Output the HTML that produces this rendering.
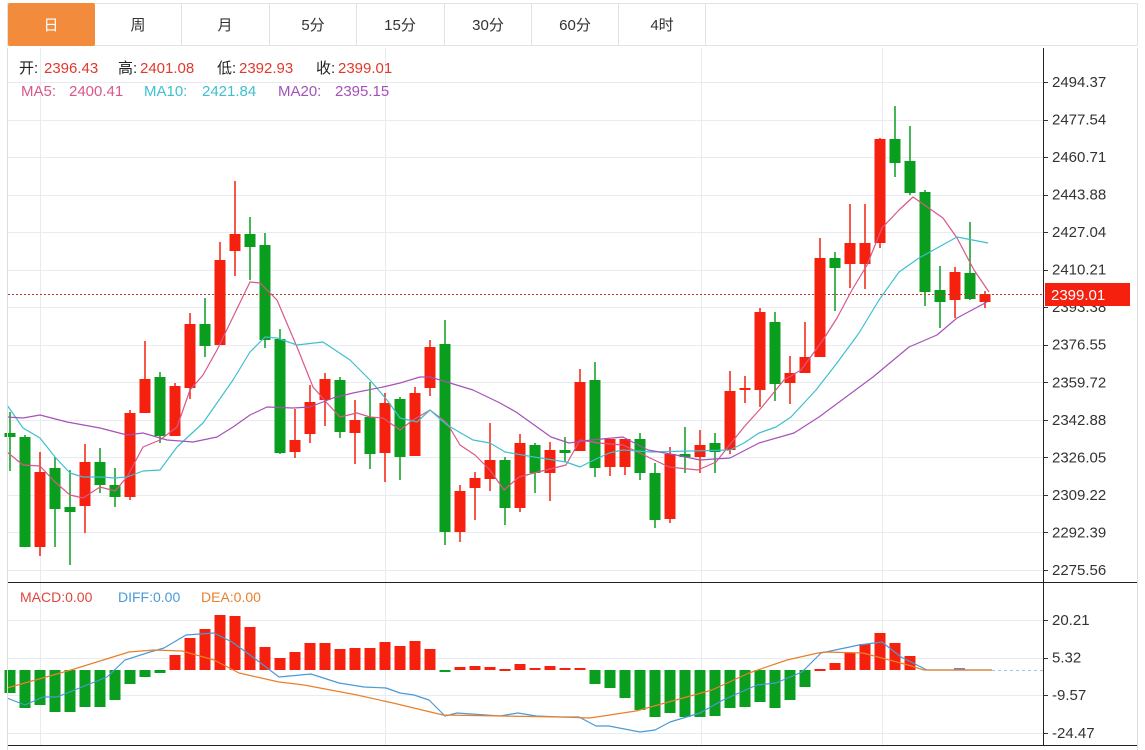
<!DOCTYPE html>
<html><head><meta charset="utf-8">
<style>
html,body{margin:0;padding:0;background:#fff;}
svg{display:block;font-family:"Liberation Sans","Noto Sans CJK SC",sans-serif;}
</style></head>
<body>
<svg id="s" width="1145" height="750" xmlns="http://www.w3.org/2000/svg">
<rect width="1145" height="750" fill="#fff"/>
<!-- tabs -->
<rect x="7.5" y="3.5" width="1130" height="42" fill="#fff" stroke="#e3e3e3"/>
<rect x="8" y="3" width="87" height="43" rx="2" fill="#f28c3c"/>
<g stroke="#e3e3e3"><line x1="181.5" y1="4" x2="181.5" y2="45"/><line x1="269.5" y1="4" x2="269.5" y2="45"/><line x1="356.5" y1="4" x2="356.5" y2="45"/><line x1="444.5" y1="4" x2="444.5" y2="45"/><line x1="531.5" y1="4" x2="531.5" y2="45"/><line x1="618.5" y1="4" x2="618.5" y2="45"/><line x1="705.5" y1="4" x2="705.5" y2="45"/></g>
<g font-size="15" fill="#333" text-anchor="middle">
<text x="51" y="30" fill="#fff">日</text><text x="138" y="30">周</text><text x="225" y="30">月</text><text x="313" y="30">5分</text><text x="400" y="30">15分</text><text x="488" y="30">30分</text><text x="575" y="30">60分</text><text x="662" y="30">4时</text>
</g>
<g id="grid" stroke="#e8ecf0" stroke-width="1"></g>
<g id="main"></g>
<g id="macd"></g>
<!-- frame -->
<g stroke="#222" stroke-width="1">
<line x1="1043.5" y1="48" x2="1043.5" y2="746"/>
<line x1="7" y1="582.5" x2="1138" y2="582.5"/>
<line x1="7" y1="745.5" x2="1138" y2="745.5"/>
</g>
<line x1="7.5" y1="48" x2="7.5" y2="750" stroke="#ddd"/>
<line x1="1137.5" y1="48" x2="1137.5" y2="750" stroke="#ddd"/>
<!-- legends -->
<g font-size="15">
<text x="19" y="73" fill="#222">开:</text><text x="44" y="73" fill="#e0392d">2396.43</text>
<text x="118" y="73" fill="#222">高:</text><text x="140" y="73" fill="#e0392d">2401.08</text>
<text x="217" y="73" fill="#222">低:</text><text x="239" y="73" fill="#e0392d">2392.93</text>
<text x="316" y="73" fill="#222">收:</text><text x="338" y="73" fill="#e0392d">2399.01</text>
<text x="21" y="96" fill="#d9578a">MA5:</text><text x="69" y="96" fill="#d9578a">2400.41</text>
<text x="144" y="96" fill="#3fbfcf">MA10:</text><text x="202" y="96" fill="#3fbfcf">2421.84</text>
<text x="278" y="96" fill="#a552b8">MA20:</text><text x="335" y="96" fill="#a552b8">2395.15</text>
</g>
<g font-size="14">
<text x="20" y="602" fill="#e0463c">MACD:0.00</text>
<text x="118" y="602" fill="#4a9ad8">DIFF:0.00</text>
<text x="201" y="602" fill="#e8802e">DEA:0.00</text>
</g>
<g id="axis" font-size="15" fill="#333"></g>
<rect x="1045" y="283" width="85" height="23" fill="#f5200e"/>
<text x="1051" y="300" font-size="15" fill="#fff">2399.01</text>
</svg>
<script>
var NS="http://www.w3.org/2000/svg";
function el(p,t,a){var e=document.createElementNS(NS,t);for(var k in a)e.setAttribute(k,a[k]);p.appendChild(e);return e;}
var grid=document.getElementById('grid'),main=document.getElementById('main'),macd=document.getElementById('macd'),axis=document.getElementById('axis');
var pl=[["2494.37",82],["2477.54",119.5],["2460.71",157],["2443.88",194.6],["2427.04",232.1],["2410.21",269.7],["2393.38",307.2],["2376.55",344.7],["2359.72",382.3],["2342.88",419.8],["2326.05",457.3],["2309.22",494.9],["2292.39",532.4],["2275.56",570]];
pl.forEach(function(p){var y=Math.round(p[1])+0.5;el(grid,'line',{x1:8,y1:y,x2:1043,y2:y});el(axis,'line',{x1:1043,y1:y,x2:1048,y2:y,stroke:'#333'});var t=el(axis,'text',{x:1052,y:p[1]+5});t.textContent=p[0];});
[["20.21",620],["5.32",657.5],["-9.57",695],["-24.47",733]].forEach(function(p){var y=Math.round(p[1])+0.5;el(grid,'line',{x1:8,y1:y,x2:1043,y2:y});el(axis,'line',{x1:1043,y1:y,x2:1048,y2:y,stroke:'#333'});var t=el(axis,'text',{x:1052,y:p[1]+5});t.textContent=p[0];});
[40,385,701,882].forEach(function(x){el(grid,'line',{x1:x+.5,y1:48,x2:x+.5,y2:745});});
var C=[
"g433,437,412,471","g437,547,435,547","r472,547,452,556","g468,509,457,547","g507,512,470,565","r462,506,444,533","g462,485,448,493","g485,497,468,507","r413,497,410,500","r379,413,341,413",
"g377,436,372,443","r386,436,383,436","r324,388,313,399","g324,346,298,357","r260,345,242,345","r234,251,181,276","g234,247,217,280","g245,340,233,348","g339,453,329,454","r440,452,409,458",
"r402,434,385,443","r379,400,373,426","g380,432,377,438","r420,433,400,464","g417,454,382,469","r403,453,393,482","g399,457,397,480","r393,456,387,456","r347,388,340,396","g344,532,320,545",
"r491,532,485,542","r478,488,472,520","r460,479,423,491","g460,508,457,525","r443,508,434,512","g445,473,443,493","r450,473,442,501","g450,453,437,462","r382,451,369,451","g380,468,362,477",
"r439,467,439,476","r439,467,439,475","g439,473,433,480","g473,520,463,528","r454,519,447,523","g454,457,427,473","r445,457,430,473","g443,452,433,473","r391,450,371,454","r388,390,376,403",
"r312,390,308,407","g322,384,312,401","r373,383,356,404","r357,373,322,373","r258,357,238,357","g258,268,252,311","r243,264,204,288","r243,264,204,289","r139,243,138,248","g139,163,106,177",
"g161,193,126,195","g192,292,190,306","g290,302,266,328","r272,300,267,318","g273,299,222,300","r294,302,291,308"];
C.forEach(function(s,i){var col=s[0]=='r'?'#f5200e':'#0a9e1f';var v=s.slice(1).split(',').map(Number);var x=10+15*i;
el(main,'line',{x1:x,y1:v[2],x2:x,y2:v[3],stroke:col,'stroke-width':1.5});
el(main,'rect',{x:x-5.5,y:v[0],width:11,height:Math.max(2,v[1]-v[0]),fill:col});});
el(main,'line',{x1:8,y1:294.5,x2:1043,y2:294.5,stroke:'#c0392b','stroke-dasharray':'2,2','stroke-width':1});
function line(g,pts,col,w){el(g,'polyline',{points:pts,fill:'none',stroke:col,'stroke-width':w||1.2,'stroke-linejoin':'round'});}
line(main,"7,452 23,465 40,466 55,482 70,495 83,498 100,487 115,491 127,477 143,447 160,440 177,427 190,390 203,375 217,350 233,317 250,282 260,283 277,300 297,347 313,387 327,403 340,417 357,413 370,417 383,418 400,430 413,420 430,410 447,423 460,445 475,455 490,470 504,490 519,477 534,473 566,465 580,440 598,443 623,445 648,457 669,467 698,470 716,462 744,427 762,407 784,380 801,370 823,340 837,318 852,290 867,265 882,228 899,210 913,197 943,218 957,238 974,270 989,292","#d9578a");
line(main,"7,405 23,428 40,438 55,457 70,473 83,477 100,477 115,478 127,477 143,471 160,470 177,447 203,423 233,380 250,352 265,337 277,338 297,345 323,342 350,360 370,380 387,400 400,418 417,422 430,410 447,425 473,440 490,443 505,452 534,457 566,462 580,467 594,460 609,453 623,450 651,452 730,450 744,443 759,433 776,427 791,417 816,390 837,363 859,333 879,300 899,272 919,258 957,237 988,243","#3fbfcf");
line(main,"7,417 23,418 40,415 67,422 100,428 127,435 143,433 167,440 193,442 217,437 233,427 250,415 267,407 293,408 310,407 333,398 353,393 383,387 400,383 420,377 430,377 450,383 473,390 500,403 516,412 551,437 569,443 591,440 623,437 648,450 676,455 700,460 730,458 759,443 794,433 819,417 873,377 909,347 937,335 957,318 987,302","#a552b8");
// MACD bars
var M=[693,708,705,712,712,707,707,700,684,677,673,655,638,629,615,616,627,647,658,652,643,643,649,648,648,642,646,641,649,672,667,666,667,669,664,668,666,668,668,684,688,698,710,717,713,717,717,716,708,707,702,708,700,687,669,663,653,644,633,643,656];
var Z=670;
M.forEach(function(y,i){var x=10+15*i;var col=y>Z?'#0a9e1f':'#f5200e';var top=Math.min(y,Z),h=Math.max(2,Math.abs(y-Z));if(Math.abs(y-Z)<2){top=Z-1;}
el(macd,'rect',{x:x-5.5,y:top,width:11,height:h,fill:col});});
el(macd,'rect',{x:954,y:668,width:11,height:2,fill:'#8a7ab8'});
el(macd,'line',{x1:992,y1:670.5,x2:1043,y2:670.5,stroke:'#9cc4e4','stroke-dasharray':'3,3'});
line(macd,"7,698 25,705 43,697 57,697 82,687 107,677 125,660 150,652 164,648 186,635 214,633 232,642 250,655 279,677 311,674 339,683 364,687 386,688 400,693 414,695 429,700 445,716 457,713 500,716 518,713 536,716 560,717 579,717 596,726 609,726 640,732 655,730 670,722 700,713 723,700 757,685 776,683 802,672 821,653 859,645 882,642 901,657 927,670 992,670","#4a9ad8");
line(macd,"7,688 71,670 129,652 154,650 182,651 214,660 239,673 279,682 304,685 357,695 393,703 443,715 560,717 590,718 636,711 712,690 749,673 787,660 818,653 825,652 863,653 908,665 924,670 992,670","#e8802e");
</script>
</body></html>
